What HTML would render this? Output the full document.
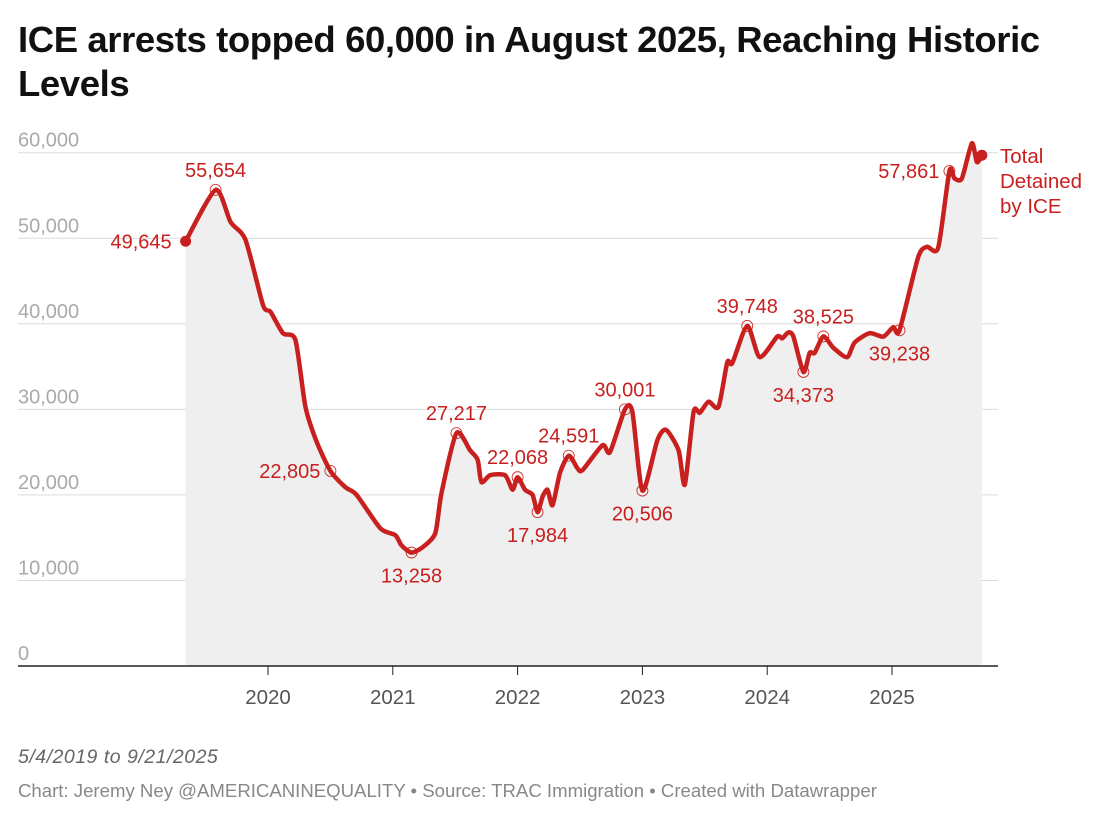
<!DOCTYPE html>
<html><head><meta charset="utf-8"><style>
body{margin:0;background:#fff;font-family:"Liberation Sans",Arial,sans-serif;}
#wrap{position:relative;width:1100px;height:821px;overflow:hidden;}
h1{position:absolute;left:18px;top:18px;margin:0;font-size:36.5px;line-height:44px;font-weight:bold;color:#111;width:1080px;letter-spacing:-0.4px}
.foot{position:absolute;left:18px;}
</style></head><body>
<div id="wrap">
<h1>ICE arrests topped 60,000 in August 2025, Reaching Historic Levels</h1>
<svg id="chart" width="1100" height="821" style="position:absolute;left:0;top:0"></svg>
<div class="foot" style="top:746px;font-style:italic;font-size:19.5px;letter-spacing:0.5px;color:#666">5/4/2019 to 9/21/2025</div>
<div class="foot" style="top:780px;font-size:18.6px;color:#888">Chart: Jeremy Ney @AMERICANINEQUALITY • Source: TRAC Immigration • Created with Datawrapper</div>
</div>
<script>
const dates=[2019.34,2019.58,2019.70,2019.82,2019.96,2020.02,2020.12,2020.22,2020.30,2020.39,2020.50,2020.62,2020.71,2020.90,2021.02,2021.07,2021.15,2021.24,2021.34,2021.39,2021.51,2021.62,2021.68,2021.71,2021.78,2021.90,2021.96,2022.00,2022.06,2022.12,2022.16,2022.20,2022.24,2022.28,2022.34,2022.41,2022.48,2022.52,2022.68,2022.74,2022.86,2022.92,2023.00,2023.12,2023.19,2023.29,2023.34,2023.41,2023.46,2023.53,2023.61,2023.68,2023.72,2023.84,2023.94,2024.08,2024.12,2024.17,2024.21,2024.29,2024.34,2024.38,2024.45,2024.53,2024.64,2024.70,2024.82,2024.93,2025.01,2025.06,2025.21,2025.28,2025.37,2025.46,2025.50,2025.56,2025.64,2025.68,2025.72];
const values=[49645,55654,51900,49800,42200,41400,38900,38100,30300,26200,22805,20900,20000,16100,15300,14100,13258,13900,15500,20200,27217,25200,24100,21500,22300,22300,20600,22068,20600,20000,17984,19800,20600,18800,22600,24591,23100,22900,25800,25000,30001,29700,20506,26400,27600,25200,21200,29700,29600,30900,30300,35500,35400,39748,36100,38500,38300,39000,38500,34373,36600,36600,38525,37200,36100,37800,38900,38500,39600,39238,47800,49000,48900,57861,57000,57000,61100,58900,59700];
const annotDates=[2019.58,2020.50,2021.15,2021.51,2022.00,2022.16,2022.41,2022.86,2023.00,2023.84,2024.29,2024.45,2025.06,2025.46];
const annotValues=[55654,22805,13258,27217,22068,17984,24591,30001,20506,39748,34373,38525,39238,57861];
const annotPos=['above','left','below','above','above','below','above','above','below','above','below','above','below','left'];
const yTicks=[0,10000,20000,30000,40000,50000,60000];
const xTicks=[2020,2021,2022,2023,2024,2025];
const RED='#c8201e';
const NS='http://www.w3.org/2000/svg';
const svg=document.getElementById('chart');
const X=d=>268+(d-2020)*124.8;
const Y=v=>666-v*0.008555;
function mk(t,a,p){const e=document.createElementNS(NS,t);for(const k in a)e.setAttribute(k,a[k]);(p||svg).appendChild(e);return e;}
const fmt=v=>v.toLocaleString('en-US');
yTicks.forEach(v=>{
  if(v>0){const g=mk('line',{x1:18,x2:998,y1:Y(v),y2:Y(v),stroke:'#dcdcdc','stroke-width':1});
  
  }
  const t=mk('text',{x:18,y:Y(v)-6,fill:'#aaa','font-size':20});
  
  
  t.textContent=fmt(v);
});
const pts=dates.map((d,i)=>[X(d),Y(values[i])]);
let dp='M'+pts[0][0]+','+pts[0][1];
for(let i=0;i<pts.length-1;i++){
  const p0=pts[Math.max(0,i-1)],p1=pts[i],p2=pts[i+1],p3=pts[Math.min(pts.length-1,i+2)];
  const k=0.12;
  dp+=` C${p1[0]+(p2[0]-p0[0])*k},${p1[1]+(p2[1]-p0[1])*k} ${p2[0]-(p3[0]-p1[0])*k},${p2[1]-(p3[1]-p1[1])*k} ${p2[0]},${p2[1]}`;
}
const area=mk('path',{d:dp+` L${pts[pts.length-1][0]},666 L${pts[0][0]},666 Z`,fill:'#efefef'});


const ax=mk('line',{x1:18,x2:998,y1:666,y2:666,stroke:'#222','stroke-width':1.5});


xTicks.forEach(d=>{
  const tk=mk('line',{x1:X(d),x2:X(d),y1:666,y2:675,stroke:'#222','stroke-width':1});
  
  
  const t=mk('text',{x:X(d),y:704,fill:'#555','font-size':20.5,'text-anchor':'middle'});
  
  
  t.textContent=d;
});
const line=mk('path',{d:dp,fill:'none',stroke:RED,'stroke-width':4.5,'stroke-linejoin':'round','stroke-linecap':'round'});


const s=mk('circle',{cx:pts[0][0],cy:pts[0][1],r:5.5,fill:RED});


const e=mk('circle',{cx:pts[pts.length-1][0],cy:pts[pts.length-1][1],r:5.5,fill:RED});


const st=mk('text',{x:pts[0][0]-14,y:pts[0][1]+7,fill:RED,'font-size':20});
st.setAttribute('text-anchor','end');


st.textContent=fmt(values[0]);
annotDates.forEach((d,i)=>{
  const x=X(d),y=Y(annotValues[i]);
  const c=mk('circle',{cx:x,cy:y,r:5.5,fill:'none',stroke:RED,'stroke-width':0.8});
  
  
  let a={fill:RED,'font-size':20};
  const p=annotPos[i];
  if(p==='above'){a.x=x;a.y=y-13;a['text-anchor']='middle';}
  else if(p==='below'){a.x=x;a.y=y+30;a['text-anchor']='middle';}
  else {a.x=x-10;a.y=y+7;a['text-anchor']='end';}
  const t=mk('text',a);
  
  
  t.textContent=fmt(annotValues[i]);
});
['Total','Detained','by ICE'].forEach((s,i)=>{
  const t=mk('text',{x:1000,y:163+i*25,fill:RED,'font-size':20.5});
  
  
  t.textContent=s;
});
</script>
</body></html>
